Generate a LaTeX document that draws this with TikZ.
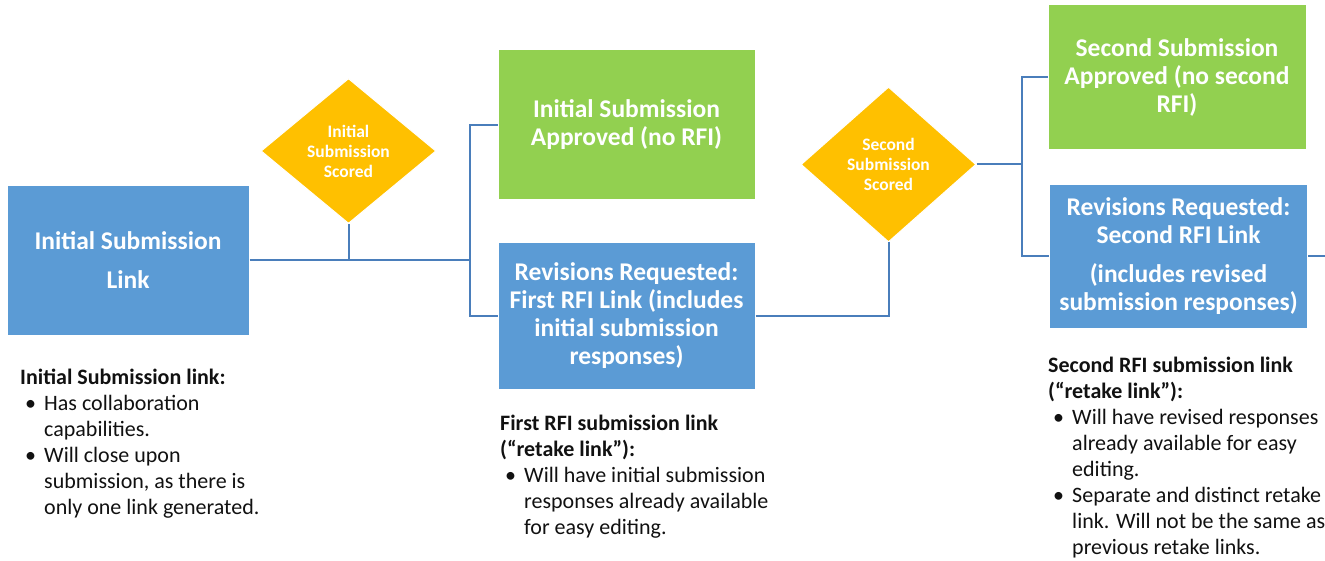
\documentclass[tikz,border=0pt]{standalone}
\usepackage{fontspec}
\setmainfont{Carlito}
\usetikzlibrary{shapes.geometric}

\definecolor{linkblue}{HTML}{5B9BD5}
\definecolor{okgreen}{HTML}{92D050}
\definecolor{scoregold}{HTML}{FFC000}
\definecolor{wireblue}{HTML}{4A7EBB}
\definecolor{notetext}{HTML}{111111}

% bullet lines for the notes under the boxes
\newcommand{\bitem}{\hspace*{5pt}\makebox[19pt][l]{\textbullet}}
\newcommand{\bcont}{\hspace*{24pt}}

\begin{document}
\begin{tikzpicture}[x=1pt, y=-1pt,
  box/.style={rectangle, fill=linkblue, draw=white, line width=1pt, text=white, inner sep=0pt, align=center, font=\bfseries\fontsize{25.5}{28}\selectfont},
  okbox/.style={box, fill=okgreen},
  score/.style={diamond, fill=scoregold, draw=white, line width=1pt, text=white, inner sep=0pt, align=center, font=\bfseries\fontsize{17.5}{20}\selectfont},
  note/.style={anchor=north west, inner sep=0pt, align=left, text=notetext, font=\fontsize{22}{26}\selectfont},
  wire/.style={draw=wireblue, line width=2pt}]
\useasboundingbox (0,0) rectangle (1325,561);

% links and outcomes
\node[box, minimum width=242, minimum height=149] (init) at (128,260.5) {Initial Submission\\[11pt]Link};
\node[score, minimum width=175, minimum height=145] (score1) at (348.5,151) {Initial\\Submission\\Scored};
\node[okbox, minimum width=257, minimum height=150] (ok1) at (626.5,125) {Initial Submission\\Approved (no RFI)};
\node[box, minimum width=257, minimum height=146] (rfi1) at (626.5,316) {Revisions Requested:\\First RFI Link (includes\\initial submission\\responses)};
\node[score, minimum width=175, minimum height=155] (score2) at (888.5,164.5) {Second\\Submission\\Scored};
\node[okbox, minimum width=258, minimum height=145] (ok2) at (1177,77.5) {Second Submission\\Approved (no second\\RFI)};
\node[box, minimum width=258, minimum height=143] (rfi2) at (1178.5,256.5) {Revisions Requested:\\Second RFI Link\\[11pt](includes revised\\submission responses)};

% notes
\node[note] (note1) at (20,369) {\textbf{Initial Submission link:}\\
  \bitem Has collaboration\\ \bcont capabilities.\\
  \bitem Will close upon\\ \bcont submission, as there is\\ \bcont only one link generated.};
\node[note] (note2) at (500,415) {\textbf{First RFI submission link}\\ \textbf{(“retake link”):}\\
  \bitem Will have initial submission\\ \bcont responses already available\\ \bcont for easy editing.};
\node[note] (note3) at (1048,357) {\textbf{Second RFI submission link}\\ \textbf{(“retake link”):}\\
  \bitem Will have revised responses\\ \bcont already available for easy\\ \bcont editing.\\
  \bitem Separate and distinct retake\\ \bcont link. Will not be the same as\\ \bcont previous retake links.};

% connectors
\coordinate (split1) at (470,260.5);
\coordinate (split2) at (1022,164.5);
\coordinate (onward) at (1325,256.5);
\draw[wire] (init.east) -- (split1);
\draw[wire] (score1.south) -- (score1.south |- split1);
\draw[wire] (ok1.west) -| (split1) |- (rfi1.west);
\draw[wire] (rfi1.east) -| (score2.south);
\draw[wire] (score2.east) -- (split2);
\draw[wire] (ok2.west) -| (split2) |- (rfi2.west);
\draw[wire] (rfi2.east) -- (onward);
\end{tikzpicture}
\end{document}
